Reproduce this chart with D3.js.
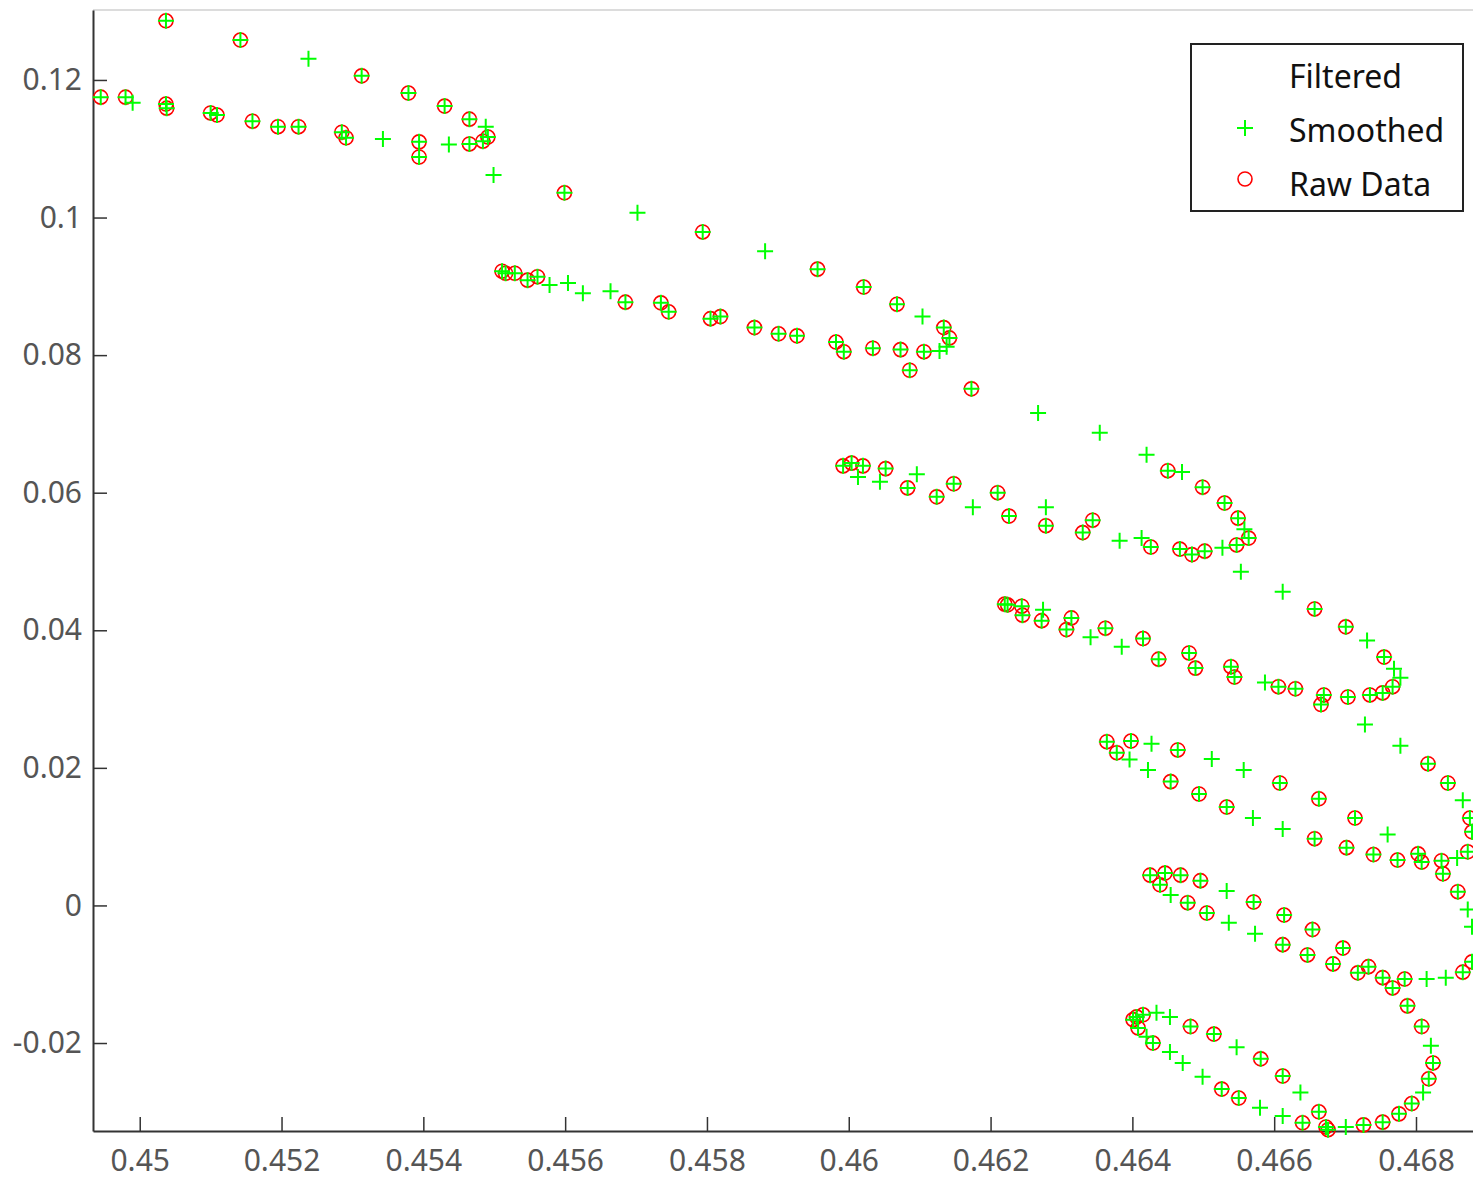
<!DOCTYPE html>
<html>
<head>
<meta charset="utf-8">
<script src="https://cdn.jsdelivr.net/npm/d3@7"></script>
<style>
  html, body { margin: 0; padding: 0; background: #fff; }
  svg { display: block; font-family: "Noto Sans", "Open Sans", sans-serif; }
  .tick text { fill: #555; font-size: 30px; }
  .axis path.domain { stroke: #333; stroke-width: 2; }
  .axis .tick line { stroke: #333; stroke-width: 1.5; }
  .legend text { fill: #111; font-size: 32px; }
</style>
</head>
<body>
<svg class="plot" width="1473" height="1183"></svg>
<script>
// raw measurements (red circles)
var rawX = [
  0.44945, 0.44980, 0.45037, 0.45038, 0.45037, 0.45142, 0.45100, 0.45109, 0.45159, 0.45195, 0.45224,
  0.45285, 0.45291, 0.45313, 0.45379, 0.45394, 0.45394, 0.45430, 0.45465, 0.45465, 0.45484, 0.45491,
  0.45599, 0.45794, 0.45956, 0.46021, 0.46068, 0.46134, 0.46142, 0.46173,
  0.45511, 0.45516, 0.45529, 0.45547, 0.45561, 0.45685, 0.45735, 0.45746, 0.45805, 0.45819, 0.45867,
  0.45901, 0.45927, 0.45982, 0.45993, 0.46034, 0.46073, 0.46106, 0.46086,
  0.46450, 0.46499, 0.46530, 0.46549, 0.46564, 0.46547, 0.46502, 0.46484, 0.46467, 0.46426,
  0.45992, 0.46004, 0.46020, 0.46052, 0.46083, 0.46124, 0.46148, 0.46210, 0.46226, 0.46278, 0.46330, 0.46344,
  0.46657, 0.46701, 0.46755, 0.46767, 0.46753, 0.46735, 0.46704, 0.46670, 0.46666, 0.46630, 0.46606,
  0.46220, 0.46224, 0.46244, 0.46245, 0.46272, 0.46314, 0.46307, 0.46362, 0.46415, 0.46437, 0.46480,
  0.46489, 0.46539, 0.46544,
  0.46817, 0.46845, 0.46876, 0.46879, 0.46873,
  0.46364, 0.46378, 0.46398, 0.46464, 0.46454, 0.46494, 0.46533, 0.46608, 0.46663, 0.46714, 0.46657,
  0.46702, 0.46740, 0.46774, 0.46803, 0.46808, 0.46836, 0.46838, 0.46859,
  0.46425, 0.46439, 0.46446, 0.46468, 0.46496, 0.46478, 0.46505, 0.46571, 0.46614, 0.46612, 0.46654,
  0.46647, 0.46697, 0.46683, 0.46718, 0.46733, 0.46753, 0.46767, 0.46784, 0.46879, 0.46866,
  0.46788, 0.46808, 0.46824, 0.46818, 0.46794, 0.46776, 0.46753, 0.46726, 0.46676, 0.46673, 0.46663,
  0.46640, 0.46612, 0.46581, 0.46550, 0.46526, 0.46515, 0.46482, 0.46429, 0.46401, 0.46406, 0.46415, 0.46408
];
var rawY = [
  0.1175, 0.1175, 0.1165, 0.1159, 0.1286, 0.1258, 0.1152, 0.1149, 0.1140, 0.1132, 0.1132,
  0.1124, 0.1116, 0.1206, 0.1181, 0.1110, 0.1088, 0.1162, 0.1143, 0.1107, 0.1111, 0.1117,
  0.1036, 0.0979, 0.0925, 0.0899, 0.0874, 0.0840, 0.0825, 0.0751,
  0.0922, 0.0919, 0.0919, 0.0909, 0.0914, 0.0877, 0.0876, 0.0863, 0.0853, 0.0856, 0.0840,
  0.0831, 0.0828, 0.0819, 0.0805, 0.0810, 0.0808, 0.0805, 0.0778,
  0.0632, 0.0608, 0.0585, 0.0563, 0.0534, 0.0524, 0.0515, 0.0510, 0.0518, 0.0521,
  0.0639, 0.0643, 0.0639, 0.0635, 0.0607, 0.0594, 0.0613, 0.0600, 0.0566, 0.0552, 0.0542, 0.0560,
  0.0431, 0.0405, 0.0361, 0.0318, 0.0309, 0.0306, 0.0303, 0.0306, 0.0292, 0.0315, 0.0318,
  0.0438, 0.0437, 0.0435, 0.0422, 0.0414, 0.0418, 0.0401, 0.0403, 0.0388, 0.0358, 0.0367,
  0.0345, 0.0347, 0.0332,
  0.0206, 0.0178, 0.0127, 0.0107, 0.0078,
  0.0238, 0.0222, 0.0239, 0.0226, 0.0180, 0.0162, 0.0143, 0.0178, 0.0155, 0.0127, 0.0097,
  0.0084, 0.0074, 0.0066, 0.0075, 0.0063, 0.0065, 0.0046, 0.0020,
  0.0044, 0.0030, 0.0047, 0.0044, 0.0036, 0.0004, -0.0011, 0.0005, -0.0014, -0.0057, -0.0035,
  -0.0072, -0.0062, -0.0085, -0.0098, -0.0089, -0.0105, -0.0120, -0.0107, -0.0082, -0.0097,
  -0.0146, -0.0176, -0.0229, -0.0252, -0.0288, -0.0303, -0.0315, -0.0319, -0.0326, -0.0322, -0.0300,
  -0.0316, -0.0248, -0.0223, -0.0280, -0.0267, -0.0187, -0.0176, -0.0200, -0.0166, -0.0162, -0.0159, -0.0178
];

// smoothed points that have no raw sample under them (green crosses only)
var smoothOnlyX = [
  0.44990, 0.45238, 0.45343, 0.45436, 0.45488, 0.45499, 0.45702, 0.45882, 0.46104, 0.46138,
  0.46128, 0.45578, 0.45604, 0.45625, 0.45664, 0.46013, 0.46044, 0.46096, 0.46175, 0.46278,
  0.46267, 0.46354, 0.46420, 0.46470, 0.46558, 0.46527, 0.46413, 0.46382, 0.46553, 0.46612,
  0.46731, 0.46769, 0.46778, 0.46587, 0.46728, 0.46274, 0.46341, 0.46385, 0.46778, 0.46866,
  0.46858, 0.46427, 0.46396, 0.46422, 0.46512, 0.46557, 0.46570, 0.46612, 0.46760, 0.46873,
  0.46879, 0.46842, 0.46815, 0.46573, 0.46536, 0.46533, 0.46454, 0.46821, 0.46810, 0.46701,
  0.46637, 0.46612, 0.46580, 0.46547, 0.46499, 0.46471, 0.46453, 0.46453, 0.46434, 0.46420
];
var smoothOnlyY = [
  0.1167, 0.1231, 0.1114, 0.1106, 0.1132, 0.1062, 0.1007, 0.0951, 0.0856, 0.0812,
  0.0806, 0.0902, 0.0905, 0.0890, 0.0893, 0.0623, 0.0616, 0.0627, 0.0579, 0.0579,
  0.0716, 0.0687, 0.0655, 0.0630, 0.0547, 0.0520, 0.0534, 0.0530, 0.0485, 0.0456,
  0.0385, 0.0344, 0.0331, 0.0324, 0.0263, 0.0430, 0.0390, 0.0376, 0.0232, 0.0153,
  0.0069, 0.0235, 0.0212, 0.0197, 0.0213, 0.0197, 0.0127, 0.0111, 0.0103, -0.0006,
  -0.0031, -0.0105, -0.0107, -0.0041, -0.0025, 0.0021, 0.0015, -0.0204, -0.0272, -0.0322,
  -0.0272, -0.0306, -0.0294, -0.0206, -0.0249, -0.0229, -0.0213, -0.0162, -0.0156, -0.0191
];

var xTicks = [0.45, 0.452, 0.454, 0.456, 0.458, 0.46, 0.462, 0.464, 0.466, 0.468];
var xTickLabels = ["0.45", "0.452", "0.454", "0.456", "0.458", "0.46", "0.462", "0.464", "0.466", "0.468"];
var yTicks = [-0.02, 0, 0.02, 0.04, 0.06, 0.08, 0.1, 0.12];
var yTickLabels = ["-0.02", "0", "0.02", "0.04", "0.06", "0.08", "0.1", "0.12"];
var legendLabels = ["Filtered", "Smoothed", "Raw Data"];

var svg = d3.select("svg.plot");
var plotLeft = 93, plotTop = 10, plotBottom = 1131, plotRight = 1473;

var x = d3.scaleLinear().domain([0.449341, 0.468804]).range([plotLeft, plotRight]);
var y = d3.scaleLinear().domain([-0.03279, 0.13017]).range([plotBottom, plotTop]);

svg.append("rect").attr("width", 1473).attr("height", 1183).attr("fill", "#fff");

// faint top border of the axes box
svg.append("line")
  .attr("x1", plotLeft).attr("x2", plotRight)
  .attr("y1", plotTop).attr("y2", plotTop)
  .attr("stroke", "#d0d0d0")
  .attr("stroke-width", 1.5);

svg.append("g")
  .attr("class", "axis")
  .attr("transform", "translate(0," + plotBottom + ")")
  .call(d3.axisBottom(x)
    .tickValues(xTicks)
    .tickFormat(function(d, i) { return xTickLabels[i]; })
    .tickSizeInner(-14)
    .tickSizeOuter(0)
    .tickPadding(19));

svg.append("g")
  .attr("class", "axis")
  .attr("transform", "translate(" + plotLeft + ",0)")
  .call(d3.axisLeft(y)
    .tickValues(yTicks)
    .tickFormat(function(d, i) { return yTickLabels[i]; })
    .tickSizeInner(-14)
    .tickSizeOuter(0)
    .tickPadding(11));

svg.selectAll(".axis").attr("font-size", null).attr("font-family", null);

var rawPoints = d3.zip(rawX, rawY);
var smoothPoints = rawPoints.concat(d3.zip(smoothOnlyX, smoothOnlyY));

var plusPath = "M-8,0H8M0,-8V8";

svg.append("g")
  .selectAll("circle")
  .data(rawPoints)
  .enter()
  .append("circle")
  .attr("cx", function(d) { return x(d[0]); })
  .attr("cy", function(d) { return y(d[1]); })
  .attr("r", 7)
  .attr("fill", "none")
  .attr("stroke", "#ff0000")
  .attr("stroke-width", 1.6);

svg.append("g")
  .selectAll("path")
  .data(smoothPoints)
  .enter()
  .append("path")
  .attr("transform", function(d) { return "translate(" + x(d[0]) + "," + y(d[1]) + ")"; })
  .attr("d", plusPath)
  .attr("stroke", "#00ff00")
  .attr("stroke-width", 2)
  .attr("fill", "none");

// legend
var legend = svg.append("g").attr("class", "legend");
legend.append("rect")
  .attr("x", 1191).attr("y", 44)
  .attr("width", 272).attr("height", 167)
  .attr("fill", "#fff")
  .attr("stroke", "#222")
  .attr("stroke-width", 2);

legend.selectAll("text")
  .data(legendLabels)
  .enter()
  .append("text")
  .attr("x", 1289)
  .attr("y", function(d, i) { return 88 + i * 54; })
  .text(function(d) { return d; });

legend.append("path")
  .attr("transform", "translate(1245,128)")
  .attr("d", plusPath)
  .attr("stroke", "#00ff00")
  .attr("stroke-width", 2);

legend.append("circle")
  .attr("cx", 1245).attr("cy", 179)
  .attr("r", 7)
  .attr("fill", "none")
  .attr("stroke", "#ff0000")
  .attr("stroke-width", 1.6);
</script>
</body>
</html>
